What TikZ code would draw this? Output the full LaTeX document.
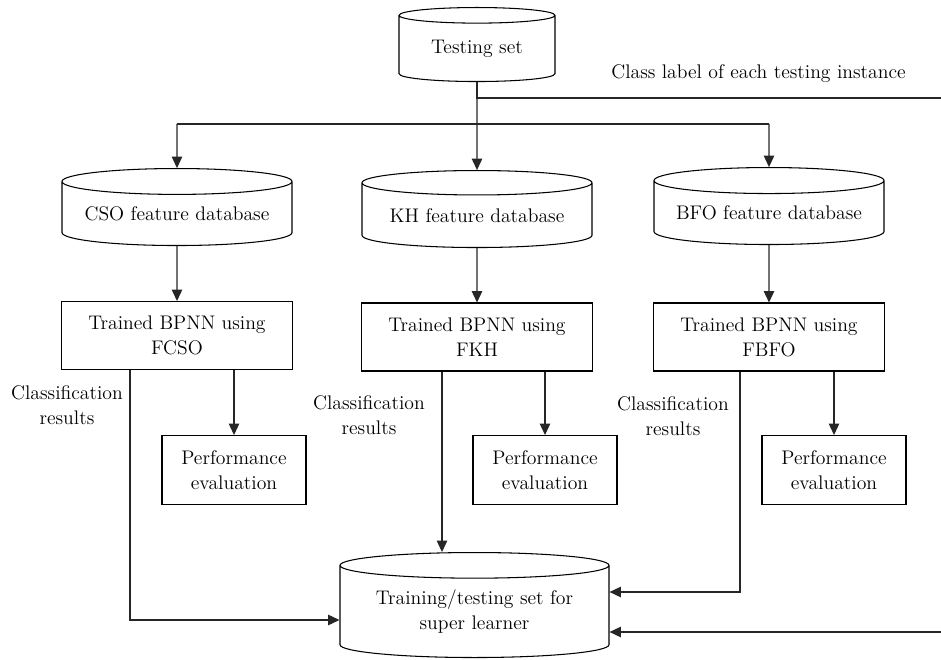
\documentclass[tikz,border=0pt]{standalone}
\usetikzlibrary{shapes.geometric,arrows.meta,calc}
\tikzset{
  db/.style={draw,line width=0.6pt,cylinder,shape border rotate=90,aspect=0.14,minimum width=4.6cm,minimum height=1.54cm,inner sep=0pt,anchor=north},
  blk/.style={draw,line width=0.6pt,rectangle,align=center,minimum width=4.62cm,minimum height=1.36cm,inner sep=1pt},
  pe/.style={draw,line width=0.6pt,rectangle,align=center,minimum width=2.88cm,minimum height=1.38cm,inner sep=1pt},
  lnk/.style={line width=0.6pt,draw=black!85},
}

\begin{document}
\begin{tikzpicture}[font=\fontsize{11.2}{14.2}\selectfont,>={Triangle[length=6.5pt,width=6pt]}]
\useasboundingbox (0,0) rectangle (18.82,-13.2);
\node[db,aspect=0.17,minimum width=3.12cm,minimum height=1.48cm] (TS) at (9.54,-0.14) {Testing set};
\node (lbl) at (15.17,-1.48) {Class label of each testing instance};
\node[db] (CSOdb) at (3.54,-3.36) {CSO feature database};
\node[db] (KHdb) at (9.54,-3.4) {KH feature database};
\node[db] (BFOdb) at (15.38,-3.34) {BFO feature database};
\node[blk] (CSOnn) at (3.54,-6.71) {Trained BPNN using\\FCSO};
\node[blk] (KHnn) at (9.54,-6.74) {Trained BPNN using\\FKH};
\node[blk] (BFOnn) at (15.38,-6.74) {Trained BPNN using\\FBFO};
\node[pe] (CSOpe) at (4.68,-9.4) {Performance\\evaluation};
\node[pe] (KHpe) at (10.9,-9.4) {Performance\\evaluation};
\node[pe] (BFOpe) at (16.68,-9.4) {Performance\\evaluation};
\node[align=center] (CSOcr) at (1.34,-8.1) {Classification\\results};
\node[align=center] (KHcr) at (7.38,-8.3) {Classification\\results};
\node[align=center] (BFOcr) at (13.46,-8.32) {Classification\\results};
\node[db,aspect=0.13,minimum width=5.38cm,minimum height=2.1cm,align=center] (SL) at (9.49,-11.04) {Training/testing set for\\super learner};

\coordinate (bar) at (9.54,-2.48);
\coordinate (out) at (18.82,-1.96);
\coordinate (back) at (18.82,-12.64);
\coordinate (cr1) at (0,-12.4);
\coordinate (cr3) at (0,-11.84);

% testing set to the three databases
\draw[lnk] (TS.south) -- (TS |- out) -- (out);
\draw[lnk] (CSOdb |- bar) -- (BFOdb |- bar);
\draw[lnk,->] (TS |- out) -- (KHdb.north);
\draw[lnk,->] (CSOdb |- bar) -- (CSOdb.north);
\draw[lnk,->] (BFOdb |- bar) -- (BFOdb.north);

% databases to networks
\draw[lnk,->] (CSOdb.south) -- (CSOnn);
\draw[lnk,->] (KHdb.south) -- (KHnn);
\draw[lnk,->] (BFOdb.south) -- (BFOnn);

% networks to evaluation
\draw[lnk,->] (CSOnn.south -| CSOpe) -- (CSOpe);
\draw[lnk,->] (KHnn.south -| KHpe) -- (KHpe);
\draw[lnk,->] (BFOnn.south -| BFOpe) -- (BFOpe);

% classification results to super learner
\draw[lnk,->] ([xshift=-0.94cm]CSOnn.south) |- (SL.west |- cr1);
\draw[lnk,->] ([xshift=-0.7cm]KHnn.south) -- ([xshift=-0.7cm]KHnn.south |- SL.north);
\draw[lnk,->] ([xshift=-0.58cm]BFOnn.south) |- (SL.east |- cr3);
\draw[lnk,->] (back) -- (SL.east |- back);
\end{tikzpicture}
\end{document}
